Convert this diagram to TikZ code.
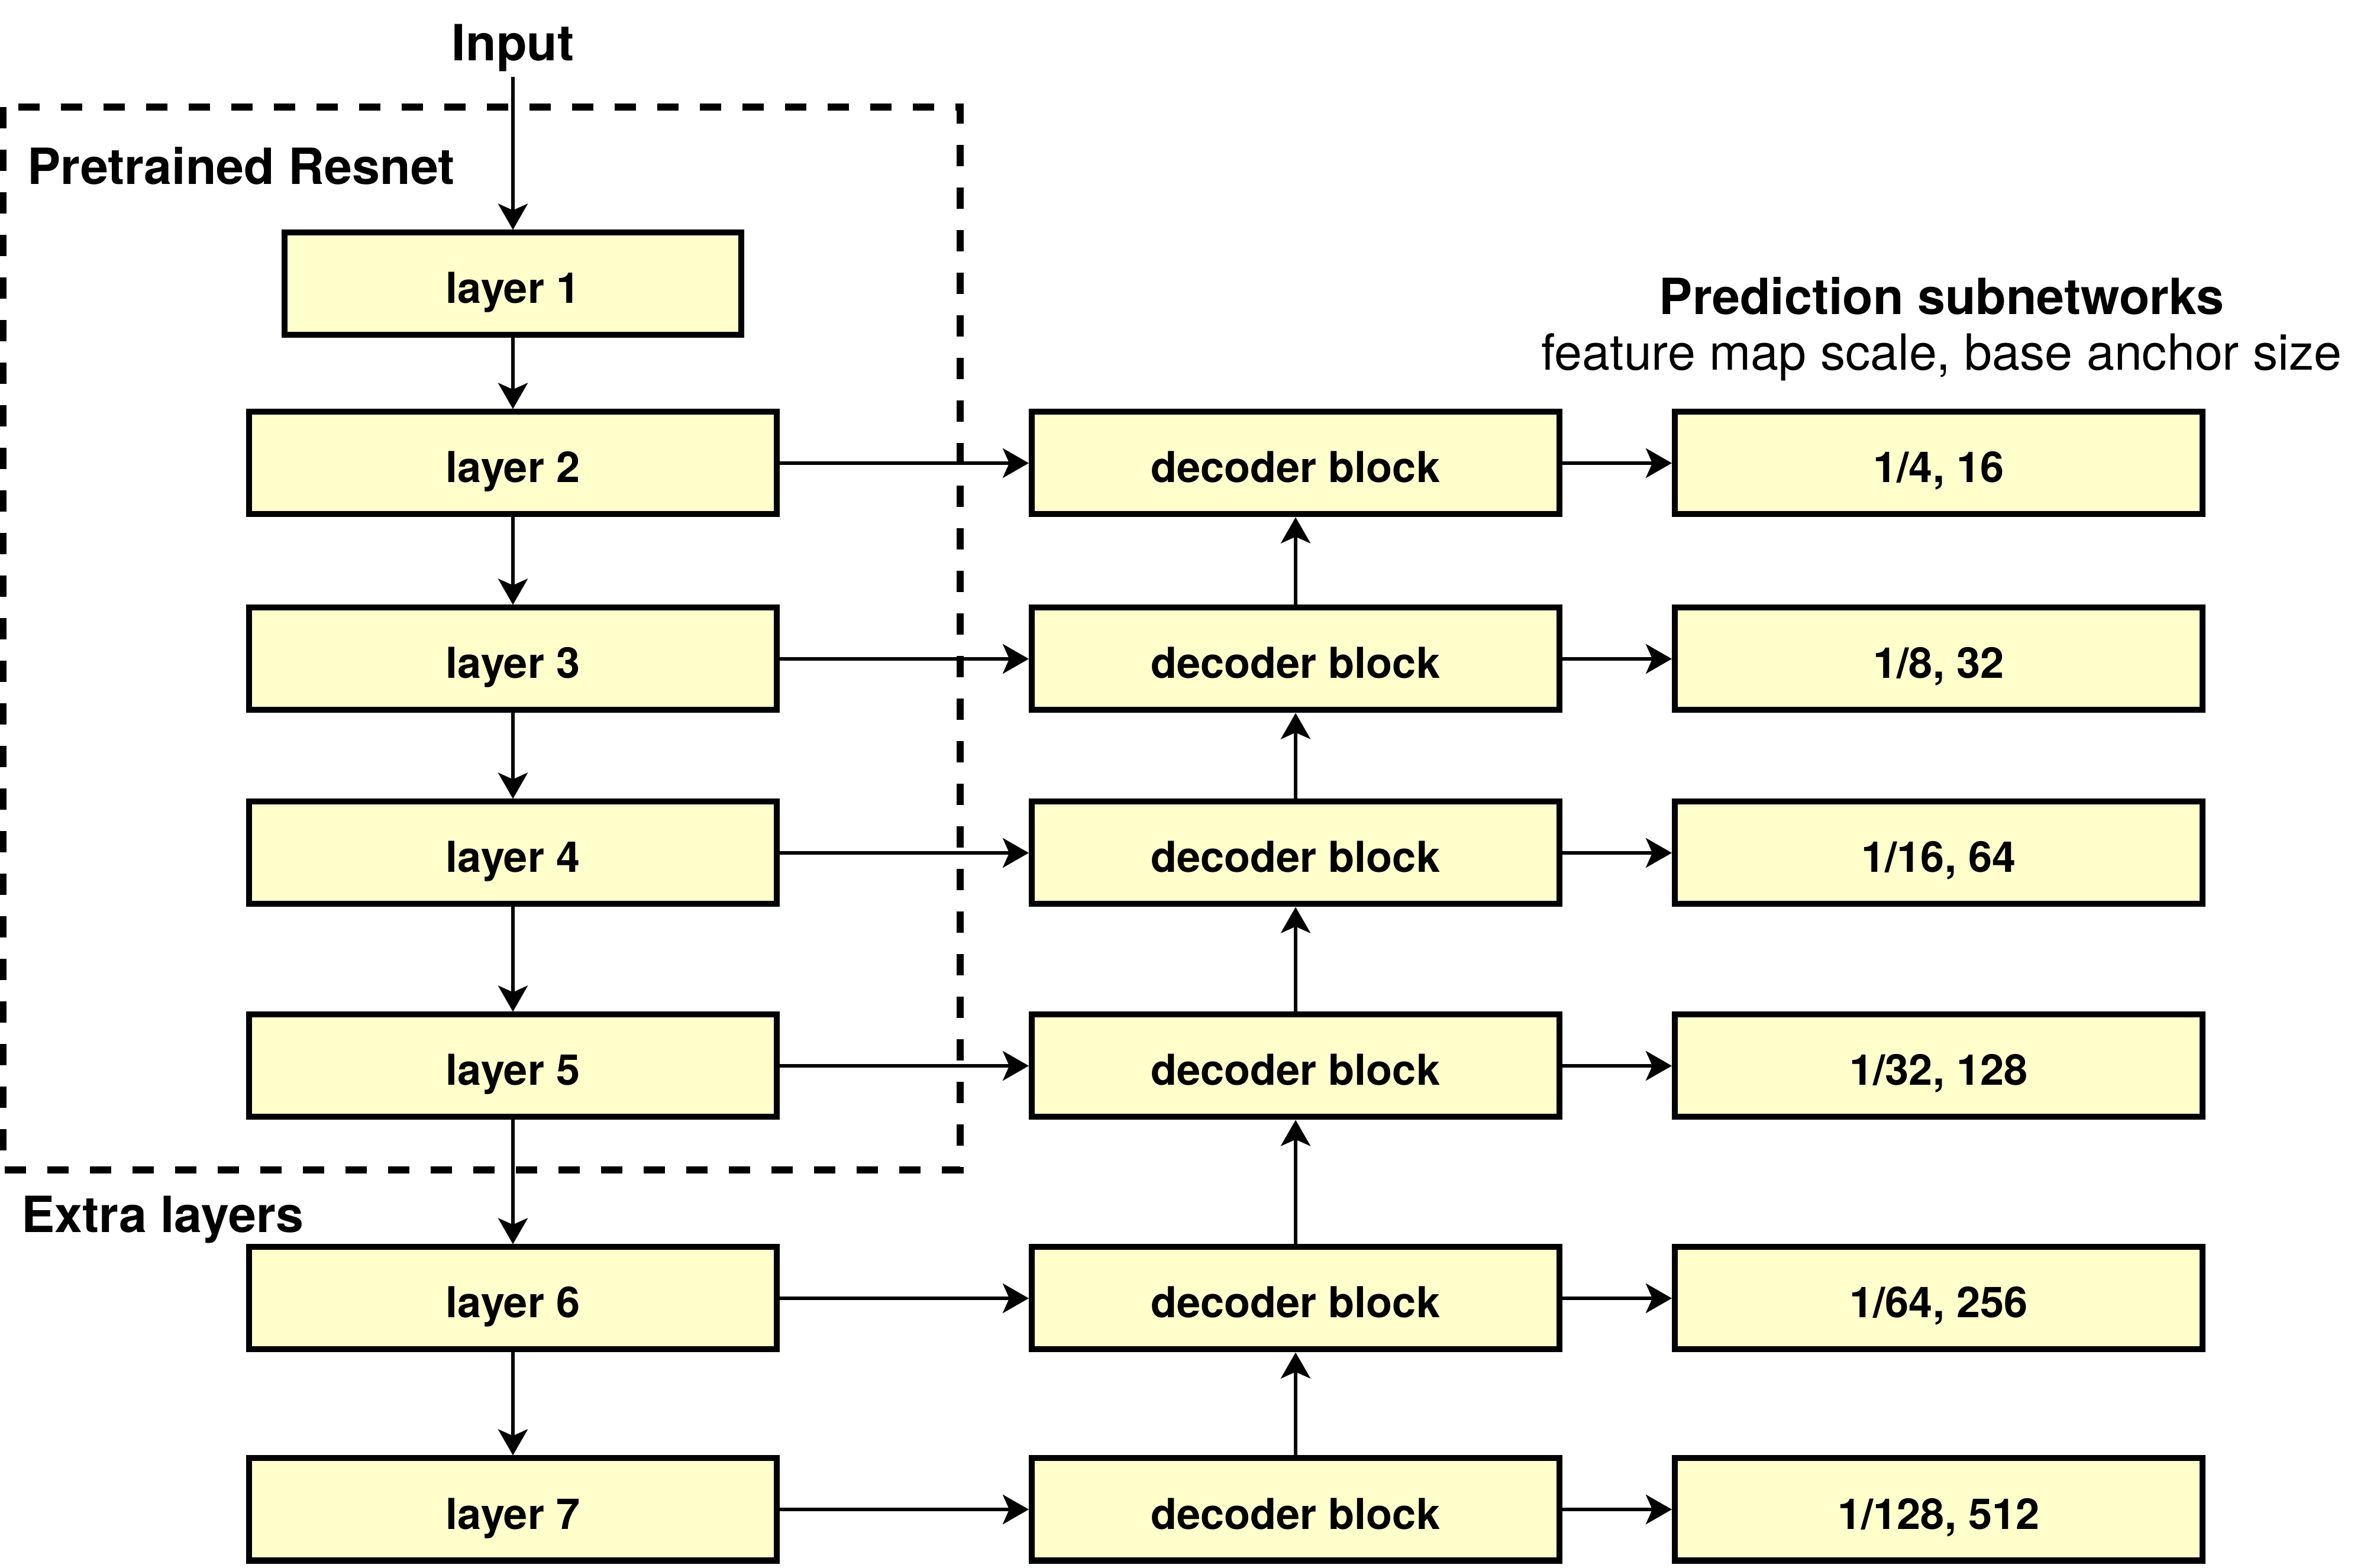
\documentclass[tikz,border=0pt]{standalone}
\usepackage{fontspec}
\setmainfont{TeX Gyre Heros}
\usetikzlibrary{arrows.meta}
\definecolor{boxyellow}{HTML}{FFFFCC}

\begin{document}
\begin{tikzpicture}[
    block/.style={draw,line width=0.1cm,fill=boxyellow,minimum height=1.73cm,
      font=\fontsize{20.5}{24}\selectfont\bfseries,text height=0.66cm,text depth=0pt},
    wide/.style={block,minimum width=8.92cm},
    title/.style={inner sep=0pt,font=\fontsize{24}{28}\selectfont\bfseries},
    arr/.style={line width=0.055cm,-{Stealth[length=0.44cm,width=0.5cm,inset=0.11cm]}}
  ]
  \useasboundingbox (0,0) rectangle (40.01,26.5);

  \draw[line width=0.12cm,dash pattern=on 0.36cm off 0.36cm] (0.05,24.69) rectangle (16.23,6.72);

  \node[title,anchor=base,inner sep=0.08cm] (input) at (8.67,25.47) {Input};
  \node[title,anchor=base west] (resnet) at (0.46,23.38) {Pretrained Resnet};
  \node[title,anchor=base west] (extra) at (0.36,5.66) {Extra layers};
  \node[title,anchor=base] (pred) at (32.82,21.18) {Prediction subnetworks};
  \node[title,anchor=base,font=\fontsize{24}{28}\selectfont] (scale) at (32.82,20.24) {feature map scale, base anchor size};

  \node[block,minimum width=7.72cm] (l1) at (8.67,21.70) {layer 1};
  \node[wide] (l2) at (8.67,18.67) {layer 2};
  \node[wide] (l3) at (8.67,15.36) {layer 3};
  \node[wide] (l4) at (8.67,12.08) {layer 4};
  \node[wide] (l5) at (8.67,8.48) {layer 5};
  \node[wide] (l6) at (8.67,4.55) {layer 6};
  \node[wide] (l7) at (8.67,0.98) {layer 7};

  \node[wide] (d2) at (21.90,18.67) {decoder block};
  \node[wide] (d3) at (21.90,15.36) {decoder block};
  \node[wide] (d4) at (21.90,12.08) {decoder block};
  \node[wide] (d5) at (21.90,8.48) {decoder block};
  \node[wide] (d6) at (21.90,4.55) {decoder block};
  \node[wide] (d7) at (21.90,0.98) {decoder block};

  \node[wide] (p2) at (32.77,18.67) {1/4, 16};
  \node[wide] (p3) at (32.77,15.36) {1/8, 32};
  \node[wide] (p4) at (32.77,12.08) {1/16, 64};
  \node[wide] (p5) at (32.77,8.48) {1/32, 128};
  \node[wide] (p6) at (32.77,4.55) {1/64, 256};
  \node[wide] (p7) at (32.77,0.98) {1/128, 512};

  \draw[arr] (input) -- (l1);
  \draw[arr] (l1) -- (l2);
  \draw[arr] (l2) -- (l3);
  \draw[arr] (l3) -- (l4);
  \draw[arr] (l4) -- (l5);
  \draw[arr] (l5) -- (l6);
  \draw[arr] (l6) -- (l7);

  \draw[arr] (l2) -- (d2);
  \draw[arr] (l3) -- (d3);
  \draw[arr] (l4) -- (d4);
  \draw[arr] (l5) -- (d5);
  \draw[arr] (l6) -- (d6);
  \draw[arr] (l7) -- (d7);

  \draw[arr] (d7) -- (d6);
  \draw[arr] (d6) -- (d5);
  \draw[arr] (d5) -- (d4);
  \draw[arr] (d4) -- (d3);
  \draw[arr] (d3) -- (d2);

  \draw[arr] (d2) -- (p2);
  \draw[arr] (d3) -- (p3);
  \draw[arr] (d4) -- (p4);
  \draw[arr] (d5) -- (p5);
  \draw[arr] (d6) -- (p6);
  \draw[arr] (d7) -- (p7);
\end{tikzpicture}
\end{document}
